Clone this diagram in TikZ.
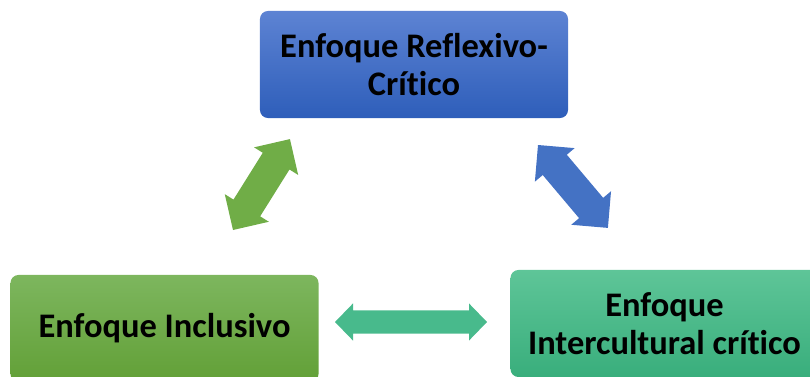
\documentclass[tikz,border=0pt]{standalone}
\usepackage{fontspec}
\setmainfont{Carlito}[Ligatures=NoCommon]
\usetikzlibrary{calc}

\definecolor{azulA}{RGB}{93,131,211}
\definecolor{azulB}{RGB}{46,94,186}
\definecolor{verdeA}{RGB}{125,182,94}
\definecolor{verdeB}{RGB}{98,160,55}
\definecolor{turqA}{RGB}{94,197,152}
\definecolor{turqB}{RGB}{57,174,124}
\definecolor{flechaverde}{RGB}{112,173,71}
\definecolor{flechaazul}{RGB}{68,114,196}
\definecolor{flechaturq}{RGB}{72,186,140}

\tikzset{
  enfoque/.style={rounded corners=0.2cm, minimum width=7.7cm, minimum height=2.675cm,
    align=center, inner sep=0pt, text=black,
    font=\bfseries\fontsize{24.5}{27}\selectfont}
}

% flecha doble: desde, hasta, color, medio ancho, media punta, largo punta
\newcommand{\flechadoble}[6]{%
  \fill[#3] let \p1=(#1), \p2=(#2), \n1={atan2(\y2-\y1,\x2-\x1)},
      \n2={veclen(\x2-\x1,\y2-\y1)} in
    [shift={(\p1)}, rotate=\n1]
    (0pt,0pt) -- (#6,#5) -- (#6,#4) -- (\n2-#6,#4) -- (\n2-#6,#5) -- (\n2+0pt,0pt)
    -- (\n2-#6,-#5) -- (\n2-#6,-#4) -- (#6,-#4) -- (#6,-#5) -- cycle;}

\begin{document}
\begin{tikzpicture}[x=0.025cm,y=-0.025cm]
  \useasboundingbox (0,0) rectangle (810,376);

  % cajas
  \node[enfoque, top color=azulA, bottom color=azulB] (reflexivo) at (414,64.5)
    {Enfoque Reflexivo-\\Crítico};
  \node[enfoque, top color=verdeA, bottom color=verdeB] (inclusivo) at (164.5,328.5)
    {Enfoque Inclusivo};
  \node[enfoque, top color=turqA, bottom color=turqB] (intercultural) at (664.5,323.5)
    {Enfoque\\Intercultural crítico};

  % extremos de las flechas
  \coordinate (vA) at (233,230);
  \coordinate (vB) at (290,139);
  \coordinate (aA) at (538,145);
  \coordinate (aB) at (608,228);
  \coordinate (tA) at (335,322);
  \coordinate (tB) at (487,322);

  % flechas dobles
  \flechadoble{vA}{vB}{flechaverde}{11.2pt}{18.5pt}{18.5pt}
  \flechadoble{aA}{aB}{flechaazul}{11.2pt}{18.5pt}{18.5pt}
  \flechadoble{tA}{tB}{flechaturq}{8.2pt}{13.2pt}{12.8pt}
\end{tikzpicture}
\end{document}
